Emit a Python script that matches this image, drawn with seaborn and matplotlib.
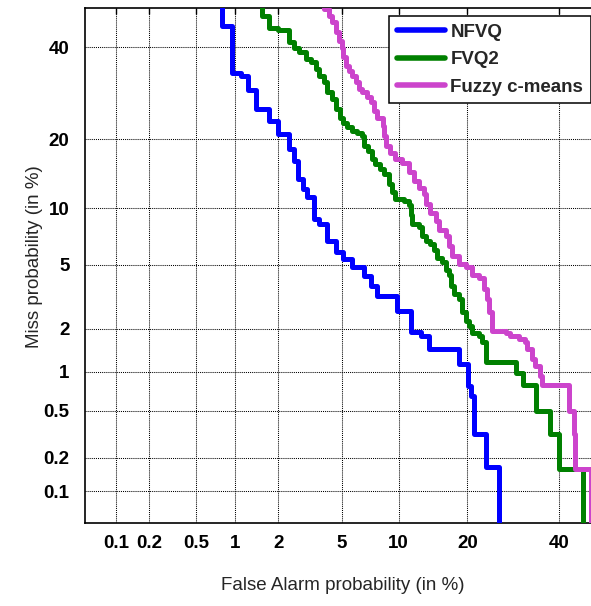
from statistics import NormalDist

import numpy as np
import pandas as pd
import matplotlib
matplotlib.use("Agg")
import matplotlib.pyplot as plt
import seaborn as sns

# DET curves, values in percent. Each fa value is where the curve drops
# vertically, the matching miss value is the level it drops to.
nfvq_fa = [0.79, 0.94, 1.09, 1.24, 1.4, 1.73, 2.0, 2.36, 2.54, 2.71, 2.9, 3.09,
           3.4, 3.65, 4.1, 4.63, 5.1, 5.7, 6.6, 7.2, 7.8, 9.8, 11.5, 12.7, 13.8,
           18.5, 20.1, 20.6, 21.2, 23.4, 26.1]
nfvq_miss = [45.3, 33.8, 33.0, 29.9, 25.8, 23.4, 20.9, 18.3, 16.4, 13.6, 12.3, 11.3,
             8.8, 8.3, 6.8, 5.9, 5.4, 4.84, 4.3, 3.76, 3.26, 2.62, 1.9, 1.79, 1.45,
             1.13, 0.78, 0.65, 0.32, 0.166, 0.0]

fvq2_fa = [1.56, 1.73, 2.0, 2.36, 2.54, 2.74, 3.02, 3.25, 3.49, 3.65, 3.91, 4.1,
           4.39, 4.59, 4.9, 5.1, 5.35, 5.7, 6.1, 6.5, 6.6, 7.0, 7.3, 7.6, 8.1, 8.4,
           8.9, 9.3, 9.6, 10.6, 11.2, 11.4, 11.6, 12.5, 12.9, 13.4, 14.0, 14.5,
           15.0, 15.8, 16.3, 16.8, 17.1, 17.6, 18.5, 19.1, 19.7, 20.2, 20.9, 22.1,
           22.7, 23.4, 29.7, 31.3, 34.4, 37.6, 39.9, 45.9]
fvq2_miss = [47.9, 44.9, 44.3, 41.2, 39.9, 38.7, 37.1, 36.3, 34.7, 33.1, 31.6, 29.4,
             27.9, 25.8, 24.1, 23.1, 22.2, 21.5, 21.2, 20.6, 18.8, 18.0, 16.6, 15.8,
             15.1, 14.3, 13.0, 11.9, 11.0, 10.8, 10.3, 9.2, 8.3, 8.0, 7.2, 6.8, 6.5,
             6.1, 5.5, 5.2, 4.7, 4.4, 3.77, 3.35, 3.12, 2.57, 2.26, 2.1, 1.89, 1.8,
             1.62, 1.17, 0.97, 0.8, 0.5, 0.32, 0.16, 0.0]

fcm_fa = [3.91, 4.19, 4.39, 4.59, 4.8, 5.0, 5.1, 5.24, 5.47, 5.71, 5.96, 6.22, 6.48,
          6.9, 7.2, 7.5, 7.8, 8.3, 8.4, 8.6, 9.1, 9.6, 10.4, 11.2, 11.8, 12.5, 13.1,
          13.4, 14.0, 14.8, 15.3, 16.3, 16.8, 17.4, 18.5, 19.7, 20.9, 22.1, 23.1,
          23.7, 24.0, 24.7, 27.5, 28.5, 30.4, 31.9, 32.3, 33.4, 34.2, 35.4, 35.8,
          42.5, 43.6, 43.8, 48.0]
fcm_miss = [49.6, 47.9, 46.2, 43.7, 41.6, 39.9, 37.5, 35.5, 34.3, 33.1, 31.6, 30.1,
            29.4, 28.3, 27.2, 25.5, 24.1, 22.5, 20.6, 18.8, 17.7, 16.6, 16.1, 14.6,
            13.4, 12.5, 11.7, 10.5, 9.5, 8.6, 7.8, 7.2, 6.4, 5.6, 5.05, 4.84, 4.4,
            4.2, 3.6, 3.12, 2.57, 1.94, 1.89, 1.8, 1.7, 1.62, 1.45, 1.23, 1.1, 0.93,
            0.8, 0.5, 0.32, 0.16, 0.0]

systems = ["NFVQ", "FVQ2", "Fuzzy c-means"]
colors = {"NFVQ": "#0000ff", "FVQ2": "#008000", "Fuzzy c-means": "#cc44cc"}

tick_pct = [0.1, 0.2, 0.5, 1, 2, 5, 10, 20, 40]
tick_labels = ["0.1", "0.2", "0.5", "1", "2", "5", "10", "20", "40"]
range_pct = (0.05, 50)

_norm = NormalDist()


def probit(pct):
    p = np.clip(np.atleast_1d(np.asarray(pct, dtype=float)) / 100.0, 1e-5, 1 - 1e-5)
    return np.array([_norm.inv_cdf(v) for v in p])


def det_frame(name, fa, miss):
    # curve enters from above the plot at the first false alarm value
    fa_all = [fa[0]] + list(fa)
    miss_all = [100.0] + list(miss)
    return pd.DataFrame({"system": name, "fa": probit(fa_all), "miss": probit(miss_all)})


df = pd.concat([
    det_frame("NFVQ", nfvq_fa, nfvq_miss),
    det_frame("FVQ2", fvq2_fa, fvq2_miss),
    det_frame("Fuzzy c-means", fcm_fa, fcm_miss),
], ignore_index=True)

sns.set_style("white")
plt.rcParams["font.family"] = ["Liberation Sans", "DejaVu Sans"]

W, H = 591, 606
fig = plt.figure(figsize=(W / 100, H / 100), dpi=100)
# axes runs a little past the right edge, like the source image
ax = fig.add_axes([84.8 / W, (H - 522.5) / H, 514.2 / W, 515.0 / H])

sns.lineplot(data=df, x="fa", y="miss", hue="system", hue_order=systems,
             palette=colors, sort=False, estimator=None, drawstyle="steps-post",
             linewidth=3.6, ax=ax, zorder=3)

lo, hi = probit(range_pct)
ax.set_xlim(lo, hi)
ax.set_ylim(lo, hi)
ax.set_xticks(probit(tick_pct))
ax.set_yticks(probit(tick_pct))
ax.set_xticklabels(tick_labels, fontweight="bold", fontsize=13.5)
ax.set_yticklabels(tick_labels, fontweight="bold", fontsize=13.5)
ax.tick_params(direction="in", length=4, width=1, top=True, right=True, colors="black")
ax.tick_params(axis="x", pad=9)
ax.tick_params(axis="y", pad=11)
ax.grid(True, color="black", linestyle=(0, (1, 1)), linewidth=0.75)
for s in ax.spines.values():
    s.set_color("black")
    s.set_linewidth(1.2)

ax.set_xlabel("False Alarm probability (in %)", fontsize=13.5)
ax.xaxis.set_label_coords(0.501, -0.131)
ax.xaxis.label.set_va("baseline")
ax.set_ylabel("Miss probability (in %)", fontsize=13.5)
ax.yaxis.set_label_coords(-0.09, 0.516)
ax.yaxis.label.set_va("baseline")

sns.move_legend(ax, "upper right", bbox_to_anchor=(0.9838, 0.9827), borderaxespad=0,
                title=None, frameon=True, fancybox=False, edgecolor="black",
                framealpha=1, prop={"weight": "bold", "size": 13.5},
                handlelength=2.55, handletextpad=0.3, labelspacing=0.55, borderpad=0.4)
leg = ax.get_legend()
leg.get_frame().set_linewidth(1.1)
for h in leg.legend_handles:
    h.set_linewidth(4)

fig.savefig("out.png", dpi=100)
